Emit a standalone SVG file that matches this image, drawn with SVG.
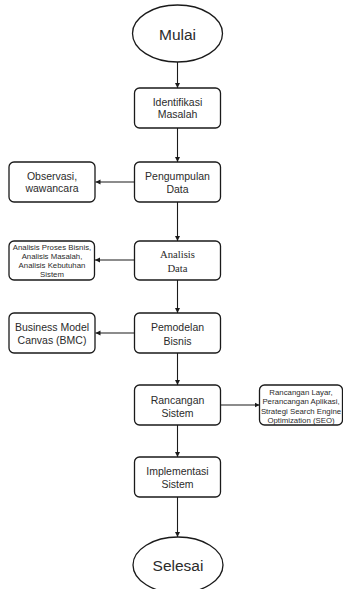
<svg xmlns="http://www.w3.org/2000/svg" width="343" height="589" viewBox="0 0 343 589">
<defs>
<style>
.box{fill:#fff;stroke:#1a1a1a;stroke-width:1.3}
.t{font-family:"Liberation Sans",Arial,sans-serif;fill:#2b2b2b;text-anchor:middle}
.m{font-size:10.5px}
.s{font-size:7.8px}
.big{font-size:15.5px}
.serif{font-family:"Liberation Serif","Times New Roman",serif;font-size:10.7px;fill:#2b2b2b;text-anchor:middle}
.c{stroke:#1a1a1a;stroke-width:1.1;fill:none;marker-end:url(#ah)}
</style>
<marker id="ah" markerWidth="6" markerHeight="6" refX="5" refY="3" orient="auto" markerUnits="userSpaceOnUse">
<path d="M0,0.5 L5,3 L0,5.5 Z" fill="#1a1a1a"/>
</marker>
</defs>
<rect width="343" height="589" fill="#fff"/>
<g id="connectors">
<line class="c" x1="177.5" y1="62" x2="177.5" y2="88"/>
<line class="c" x1="177.5" y1="128" x2="177.5" y2="162"/>
<line class="c" x1="177.5" y1="202" x2="177.5" y2="241"/>
<line class="c" x1="177.5" y1="280" x2="177.5" y2="313"/>
<line class="c" x1="177.5" y1="353" x2="177.5" y2="385"/>
<line class="c" x1="177.5" y1="425" x2="177.5" y2="457"/>
<line class="c" x1="177.5" y1="497" x2="177.5" y2="537"/>
<line class="c" x1="134.5" y1="182" x2="95.5" y2="182"/>
<line class="c" x1="134.5" y1="260" x2="95" y2="260"/>
<line class="c" x1="134.5" y1="333" x2="95.5" y2="333"/>
<line class="c" x1="220.5" y1="405" x2="259.5" y2="405"/>
</g>
<g id="mulai">
<ellipse class="box" cx="177.5" cy="33.5" rx="45" ry="28.5"/>
<text class="t big" x="177.5" y="39.5">Mulai</text>
</g>
<g id="identifikasi">
<rect class="box" x="134.5" y="88" width="86" height="40" rx="5"/>
<text class="t m" x="177.5" y="106">Identifikasi</text>
<text class="t m" x="177.5" y="118">Masalah</text>
</g>
<g id="pengumpulan">
<rect class="box" x="134.5" y="162" width="86" height="40" rx="5"/>
<text class="t m" x="177.5" y="180">Pengumpulan</text>
<text class="t m" x="177.5" y="193">Data</text>
</g>
<g id="observasi">
<rect class="box" x="9" y="162" width="86" height="40" rx="5"/>
<text class="t m" x="52" y="180">Observasi,</text>
<text class="t m" x="52" y="192">wawancara</text>
</g>
<g id="analisis">
<rect class="box" x="134.5" y="241" width="86" height="39" rx="5"/>
<text class="serif" x="177.5" y="258">Analisis</text>
<text class="serif" x="177.5" y="272">Data</text>
</g>
<g id="analisis-detail">
<rect class="box" x="9" y="241" width="85.5" height="39" rx="5"/>
<text class="t s" x="52" y="250">Analisis Proses Bisnis,</text>
<text class="t s" x="52" y="259">Analisis Masalah,</text>
<text class="t s" x="52" y="268">Analisis Kebutuhan</text>
<text class="t s" x="52" y="277">Sistem</text>
</g>
<g id="pemodelan">
<rect class="box" x="134.5" y="313" width="86" height="40" rx="5"/>
<text class="t m" x="177.5" y="331">Pemodelan</text>
<text class="t m" x="177.5" y="345">Bisnis</text>
</g>
<g id="bmc">
<rect class="box" x="9" y="313" width="86" height="40" rx="5"/>
<text class="t m" x="52" y="330.5">Business Model</text>
<text class="t m" x="52" y="343.5">Canvas (BMC)</text>
</g>
<g id="rancangan">
<rect class="box" x="134.5" y="385" width="86" height="40" rx="5"/>
<text class="t m" x="177.5" y="403.5">Rancangan</text>
<text class="t m" x="177.5" y="417">Sistem</text>
</g>
<g id="rancangan-detail">
<rect class="box" x="259.5" y="385" width="83" height="40" rx="5"/>
<text class="t s" x="301" y="394.5">Rancangan Layar,</text>
<text class="t s" x="301" y="404">Perancangan Aplikasi,</text>
<text class="t s" x="301" y="413.5">Strategi Search Engine</text>
<text class="t s" x="301" y="423">Optimization (SEO)</text>
</g>
<g id="implementasi">
<rect class="box" x="134.5" y="457" width="86" height="40" rx="5"/>
<text class="t m" x="177.5" y="475">Implementasi</text>
<text class="t m" x="177.5" y="488">Sistem</text>
</g>
<g id="selesai">
<ellipse class="box" cx="178" cy="565" rx="45" ry="28"/>
<text class="t big" x="178" y="571">Selesai</text>
</g>
</svg>
